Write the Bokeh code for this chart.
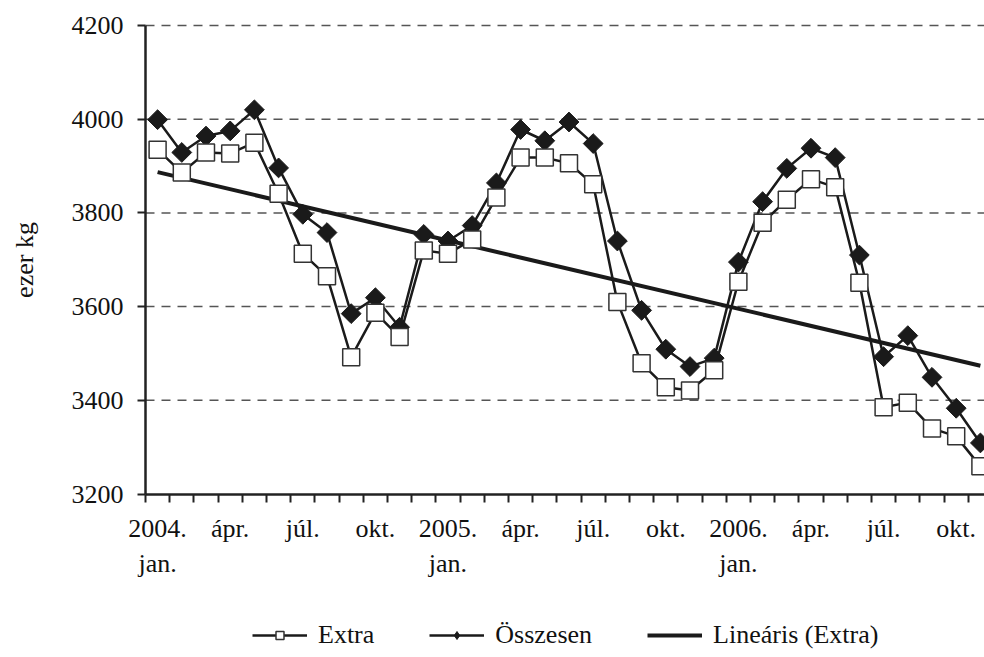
import numpy as np
from bokeh.plotting import figure
from bokeh.models import (Range1d, FixedTicker, Legend, LegendItem, ColumnDataSource)
from bokeh.embed import file_html
from bokeh.resources import INLINE

# ---- data ----
extra = [3935, 3886, 3929, 3927, 3950, 3841, 3713, 3665, 3492, 3587, 3535, 3720,
         3713, 3743, 3833, 3918, 3918, 3906, 3861, 3610, 3479, 3428, 3421, 3464,
         3653, 3779, 3828, 3872, 3855, 3651, 3385, 3395, 3340, 3323, 3259]
osszesen = [3999, 3929, 3964, 3975, 4020, 3896, 3797, 3758, 3585, 3619, 3556, 3754,
            3740, 3773, 3864, 3978, 3954, 3994, 3948, 3740, 3592, 3509, 3472, 3490,
            3695, 3824, 3895, 3938, 3918, 3710, 3493, 3538, 3449, 3383, 3309]
tick_positions = [0, 3, 6, 9, 12, 15, 18, 21, 24, 27, 30, 33]
tick_labels = ["2004.\njan.", "ápr.", "júl.", "okt.",
               "2005.\njan.", "ápr.", "júl.", "okt.",
               "2006.\njan.", "ápr.", "júl.", "okt."]
y_ticks = [3200, 3400, 3600, 3800, 4000, 4200]
y_min, y_max = 3200, 4200

idx = list(range(len(extra)))
coef = np.polyfit(idx, extra, 1)
trend_x = [idx[0], idx[-1]]
trend_y = [float(np.polyval(coef, v)) for v in trend_x]

FONT = "Liberation Serif"
FS = "26px"

W, H = 984, 654
TOP = 25                    # pixel position of the 4200 line
AXIS_LEFT_PX = 145          # where the value axis sits
PX_PER_CAT = 24.2
PX_PER_UNIT = 93.7 / 200.0
x_start = -0.5
x_low = x_start - AXIS_LEFT_PX / PX_PER_CAT
x_high = x_low + W / PX_PER_CAT
y_top = y_max + TOP / PX_PER_UNIT
y_low = y_top - H / PX_PER_UNIT

p = figure(width=W, height=H, output_backend="svg", toolbar_location=None,
           x_range=Range1d(x_low, x_high), y_range=Range1d(y_low, y_top),
           min_border_left=0, min_border_right=0, min_border_top=0,
           min_border_bottom=0)
p.outline_line_color = None
p.background_fill_color = "white"
p.border_fill_color = "white"
p.xgrid.visible = False
p.ygrid.visible = False

# dashed horizontal gridlines from the value axis to the right edge
grid_vals = y_ticks[1:]
p.segment(x0=[x_start] * len(grid_vals), x1=[x_high + 1] * len(grid_vals),
          y0=grid_vals, y1=grid_vals, line_color="#555555", line_width=1.5,
          line_dash="9 7")

# x axis (sits at y = 3200)
xa = p.xaxis[0]
xa.fixed_location = y_min
xa.bounds = (x_start, x_high + 1)
xa.ticker = FixedTicker(ticks=tick_positions,
                        minor_ticks=[i - 0.5 for i in range(0, 37)])
xa.major_label_overrides = {k: v for k, v in zip(tick_positions, tick_labels)}
xa.major_tick_out = 0
xa.major_tick_in = 0
xa.minor_tick_out = 8
xa.minor_tick_in = 0
xa.minor_tick_line_color = "#222222"
xa.minor_tick_line_width = 2
xa.axis_line_color = "#222222"
xa.axis_line_width = 2.5
xa.major_label_text_font = FONT
xa.major_label_text_font_size = FS
xa.major_label_text_color = "#111111"
xa.major_label_standoff = 12

# y axis (sits at the start of the category axis)
ya = p.yaxis[0]
ya.fixed_location = x_start
ya.bounds = (y_min, y_max)
ya.ticker = FixedTicker(ticks=y_ticks)
ya.minor_tick_line_color = None
ya.major_tick_out = 8
ya.major_tick_in = 0
ya.major_tick_line_color = "#222222"
ya.major_tick_line_width = 2
ya.axis_line_color = "#222222"
ya.axis_line_width = 2.5
ya.major_label_text_font = FONT
ya.major_label_text_font_size = FS
ya.major_label_text_color = "#111111"
ya.major_label_standoff = 14
ya.axis_label = "ezer kg"
ya.axis_label_text_font = FONT
ya.axis_label_text_font_size = FS
ya.axis_label_text_font_style = "normal"
ya.axis_label_text_color = "#111111"
ya.axis_label_standoff = 30

src = ColumnDataSource(dict(x=idx, extra=extra, ossz=osszesen))

l_tr = p.line(trend_x, trend_y, line_color="#1a1a1a", line_width=4)
l_ex = p.line("x", "extra", source=src, line_color="#1a1a1a", line_width=2.5)
l_os = p.line("x", "ossz", source=src, line_color="#1a1a1a", line_width=2.5)
# diamond glyph (covered by the rotated squares) so the legend shows a diamond
s_os_leg = p.scatter("x", "ossz", source=src, marker="diamond", size=16,
                     fill_color="#1a1a1a", line_color="#1a1a1a")
s_os = p.scatter("x", "ossz", source=src, marker="square", angle=np.pi / 4,
                 size=14, fill_color="#1a1a1a", line_color="#1a1a1a")
s_ex = p.scatter("x", "extra", source=src, marker="square", size=17,
                 fill_color="white", line_color="#333333", line_width=1.5)

legend = Legend(items=[
    LegendItem(label="Extra", renderers=[l_ex, s_ex]),
    LegendItem(label="Összesen", renderers=[l_os, s_os_leg]),
    LegendItem(label="Lineáris (Extra)", renderers=[l_tr]),
], orientation="horizontal", location=(252, 4))
legend.label_text_font = FONT
legend.label_text_font_size = FS
legend.label_text_color = "#111111"
legend.glyph_width = 55
legend.label_standoff = 11
legend.spacing = 55
legend.padding = 0
legend.margin = 0
legend.border_line_color = None
legend.background_fill_alpha = 0
p.add_layout(legend, "center")

open("out.html", "w").write(file_html(p, INLINE))
